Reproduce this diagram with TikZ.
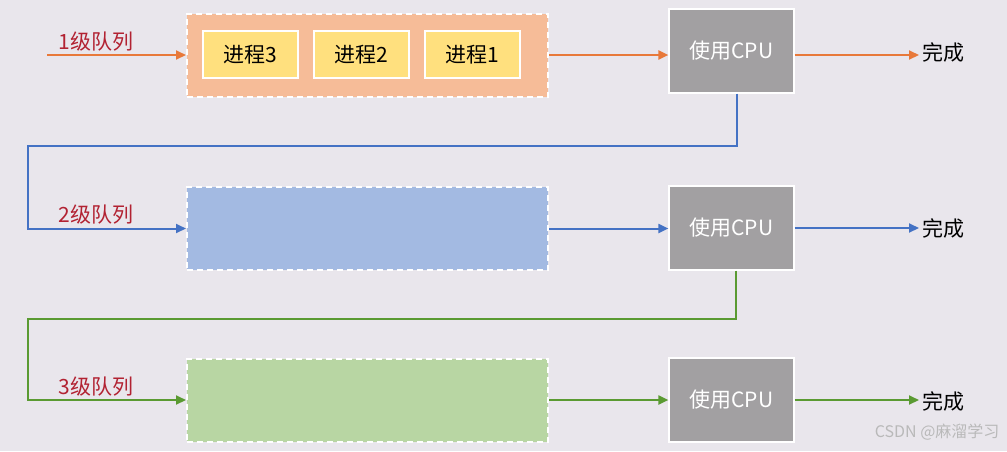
\documentclass[tikz,border=0pt]{standalone}
\usepackage{fontspec}
\setmainfont{Liberation Sans}
\newfontfamily\cjk{Noto Sans CJK SC}
\usetikzlibrary{arrows.meta}
\definecolor{bg}{HTML}{E9E6EC}
\definecolor{qor}{HTML}{F6BC98}
\definecolor{qbl}{HTML}{A3BAE2}
\definecolor{qgr}{HTML}{B8D6A3}
\definecolor{aor}{HTML}{E8793A}
\definecolor{abl}{HTML}{4472C4}
\definecolor{agr}{HTML}{5A9A32}
\definecolor{yel}{HTML}{FFE07E}
\definecolor{cpu}{HTML}{A2A0A2}
\definecolor{lab}{HTML}{B22232}
\tikzset{
 queue/.style={draw=white,line width=2pt,dash pattern=on 6pt off 4pt,minimum width=361pt,minimum height=83pt},
 proc/.style={draw=white,line width=1.2pt,fill=yel,minimum width=95pt,minimum height=47pt,font=\cjk\fontsize{21}{21}\selectfont},
 cpubox/.style={draw=white,line width=1.2pt,fill=cpu,text=white,minimum width=125pt,minimum height=84pt,font=\cjk\fontsize{21}{21}\selectfont},
 qlabel/.style={text=lab,font=\cjk\fontsize{21}{21}\selectfont,anchor=south},
 done/.style={font=\cjk\fontsize{21}{21}\selectfont,anchor=west},
 arr/.style={line width=2pt,-{Triangle[length=10pt,width=9pt]}}
}
\begin{document}
\begin{tikzpicture}[x=1pt,y=-1pt]
\fill[bg] (0,0) rectangle (1007,451);
\useasboundingbox (0,0) rectangle (1007,451);
% queues
\node[queue,fill=qor] (q1) at (367.5,55) {};
\node[queue,fill=qbl] (q2) at (367.5,228.5) {};
\node[queue,fill=qgr] (q3) at (367.5,400) {};
\node[proc] (p3) at (250.5,54.5) {进程3};
\node[proc] (p2) at (361.5,54.5) {进程2};
\node[proc] (p1) at (472.5,54.5) {进程1};
% cpus
\node[cpubox] (c1) at (731.5,51) {使用CPU};
\node[cpubox] (c2) at (731.5,228) {使用CPU};
\node[cpubox] (c3) at (731.5,400) {使用CPU};
% done
\node[done] (d1) at (919,52) {完成};
\node[done] (d2) at (919,228) {完成};
\node[done] (d3) at (919,401) {完成};
% labels
\coordinate (s1) at (47,55);
\node[qlabel] (l1) at (96,55) {1级队列};
\node[qlabel] (l2) at (96,228) {2级队列};
\node[qlabel] (l3) at (96,400) {3级队列};
% arrows row 1
\draw[arr,aor] (s1) -- (q1.west);
\draw[arr,aor] (q1.east) -- (c1.west |- q1.east);
\draw[arr,aor] (c1.east |- 0,55) -- (d1.west |- 0,55);
% row 2
\draw[arr,abl] (c1.south -| 737,0) |- (28,146) |- (q2.west);
\draw[arr,abl] (q2.east) -- (c2.west |- q2.east);
\draw[arr,abl] (c2.east) -- (d2.west |- c2.east);
% row 3
\draw[arr,agr] (c2.south -| 736,0) |- (28,319) |- (q3.west);
\draw[arr,agr] (q3.east) -- (c3.west |- q3.east);
\draw[arr,agr] (c3.east) -- (d3.west |- c3.east);
% watermark
\node[text=gray!55,font=\cjk\fontsize{16}{16}\selectfont,anchor=east] (wm) at (1003,432) {CSDN @麻溜学习};
\end{tikzpicture}
\end{document}
